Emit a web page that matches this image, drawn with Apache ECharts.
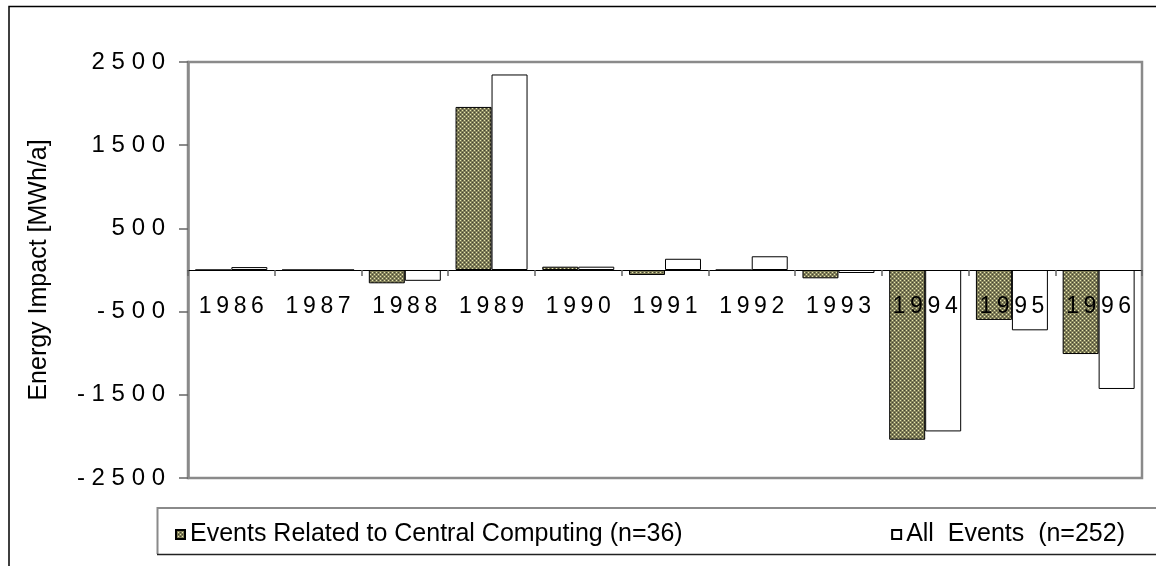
<!DOCTYPE html>
<html>
<head>
<meta charset="utf-8">
<script src="https://cdn.jsdelivr.net/npm/echarts@6/dist/echarts.min.js"></script>
<style>
html,body{margin:0;padding:0;background:#fff;}
#chart{width:1156px;height:566px;}
</style>
</head>
<body>
<div id="chart"></div>
<script>
var years = ['1986','1987','1988','1989','1990','1991','1992','1993','1994','1995','1996'];
var centralName = 'Events Related to Central Computing (n=36)';
var allName = 'All  Events  (n=252)';
var centralValues = [0, 0, -160, 1960, 40, -60, 0, -100, -2040, -600, -1010];
var allValues = [35, 0, -130, 2350, 40, 135, 165, -36, -1940, -725, -1430];
var yTickValues = [-2500, -1500, -500, 500, 1500, 2500];

var FONT = '"Liberation Sans", Arial, sans-serif';

// dotted olive pattern for the "central computing" bars
var pc = document.createElement('canvas');
pc.width = 4; pc.height = 4;
var pctx = pc.getContext('2d');
pctx.fillStyle = '#807e58';
pctx.fillRect(0, 0, 4, 4);
pctx.fillStyle = '#e6e5b0';
pctx.fillRect(0, 0, 1, 1);
pctx.fillRect(2, 2, 1, 1);
pctx.fillStyle = '#454436';
pctx.fillRect(2, 0, 1, 1);
pctx.fillRect(0, 2, 1, 1);
var pattern = { image: pc, repeat: 'repeat' };

var GRID_TOP = 62, GRID_BOTTOM = 88, H = 566;
var YMIN = -2500, YMAX = 2500;

var chart = echarts.init(document.getElementById('chart'), null, { renderer: 'canvas' });
// distance of the zero line above the plot's bottom edge (so labels sit below the zero line)
var plotH = H - GRID_TOP - GRID_BOTTOM;
var zeroOffset = plotH * (0 - YMIN) / (YMAX - YMIN);

chart.setOption({
  animation: false,
  backgroundColor: '#ffffff',
  textStyle: { fontFamily: FONT },
  grid: {
    left: 188, right: 14, top: GRID_TOP, bottom: GRID_BOTTOM,
    show: true, borderColor: '#8a8a8a', borderWidth: 2.5, backgroundColor: 'transparent'
  },
  legend: [
    {
      data: [centralName], left: 170, top: 517,
      itemWidth: 9, itemHeight: 9, icon: 'rect', itemGap: 6,
      textStyle: { fontSize: 25, color: '#000', fontFamily: FONT }
    },
    {
      data: [allName], right: 26, top: 517,
      itemWidth: 9, itemHeight: 9, icon: 'rect',
      textStyle: { fontSize: 25, color: '#000', fontFamily: FONT }
    }
  ],
  xAxis: {
    type: 'category',
    data: years,
    z: 5,
    offset: -zeroOffset,
    axisLine: { onZero: false, lineStyle: { color: '#000', width: 1 } },
    axisTick: { show: true, length: 6, lineStyle: { color: '#666', width: 1.5 } },
    axisLabel: {
      interval: 0, margin: 25, fontSize: 23, color: '#000', fontFamily: FONT,
      formatter: function (v) { return v.split('').join('\u2009'); }
    },
    splitLine: { show: false }
  },
  yAxis: {
    type: 'value',
    min: YMIN, max: YMAX, interval: 500,
    name: 'Energy Impact [MWh/a]',
    nameLocation: 'middle',
    nameGap: 136,
    nameTextStyle: { fontSize: 25, color: '#000', fontFamily: FONT },
    axisLine: { show: true, lineStyle: { color: '#8a8a8a', width: 2.5 } },
    axisTick: { show: true, length: 9, customValues: yTickValues, lineStyle: { color: '#666', width: 1.5 } },
    axisLabel: {
      margin: 23, fontSize: 24, color: '#000', fontFamily: FONT,
      customValues: yTickValues,
      formatter: function (v) { return String(v).split('').join(' '); }
    },
    splitLine: { show: false }
  },
  series: [
    {
      name: centralName,
      type: 'bar',
      data: centralValues,
      barGap: '0%',
      barCategoryGap: '17%',
      itemStyle: { color: pattern, borderColor: '#000', borderWidth: 1 }
    },
    {
      name: allName,
      type: 'bar',
      data: allValues,
      barGap: '0%',
      barCategoryGap: '17%',
      itemStyle: { color: '#ffffff', borderColor: '#000', borderWidth: 1 }
    }
  ],
  graphic: [
    {
      type: 'polyline', z: 10,
      shape: { points: [[9, 566], [9, 6.5], [1156, 6.5]] },
      style: { stroke: '#000', lineWidth: 1.5, fill: null }
    },
    {
      type: 'polyline', z: 10,
      shape: { points: [[157.5, 554], [157.5, 508], [1156, 508]] },
      style: { stroke: '#8a8a8a', lineWidth: 2, fill: null }
    },
    {
      type: 'line', z: 10,
      shape: { x1: 157, y1: 554.5, x2: 1156, y2: 554.5 },
      style: { stroke: '#222', lineWidth: 1.5 }
    }
  ]
});
</script>
</body>
</html>
